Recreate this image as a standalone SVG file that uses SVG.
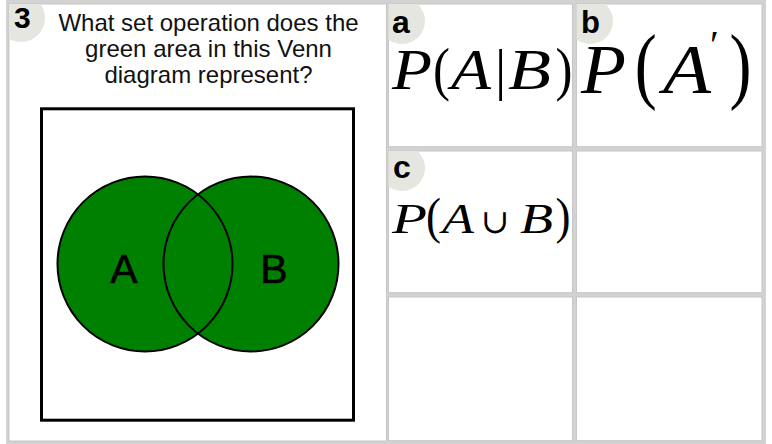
<svg xmlns="http://www.w3.org/2000/svg" width="772" height="444" viewBox="0 0 772 444">
<style>
.cell{fill:#ffffff;stroke:#c6c6c6;stroke-width:1}
.badge{fill:#e6e6e0}
.lbl{font-family:"Liberation Sans",Arial,sans-serif;font-weight:bold;fill:#000}
.q{font-family:"Liberation Sans",Arial,sans-serif;font-size:24px;fill:#111;text-anchor:middle}
.m{font-family:"Liberation Serif","DejaVu Serif",serif;fill:#000}
.i{font-style:italic}
.vfill{fill:#008000;stroke:none}
.vline{fill:none;stroke:#000;stroke-width:2}
.vl{font-family:"Liberation Sans",Arial,sans-serif;font-size:41px;fill:#000;stroke:#000;stroke-width:0.6;text-anchor:middle}
</style>
<defs>
<clipPath id="cq"><rect x="9" y="4" width="377.5" height="437"/></clipPath>
<clipPath id="ca"><rect x="388.5" y="4" width="184" height="142.7"/></clipPath>
<clipPath id="cb"><rect x="576.5" y="4" width="185.5" height="142.7"/></clipPath>
<clipPath id="cc"><rect x="388.5" y="151" width="184" height="141.7"/></clipPath>
</defs>
<rect x="0" y="0" width="772" height="444" fill="#ffffff"/>
<rect x="6" y="0" width="760" height="444" fill="#d2d2d2"/>

<g id="question">
<rect class="cell" x="9" y="4" width="377.5" height="437"/>
<circle class="badge" cx="21" cy="18" r="24" clip-path="url(#cq)"/>
<text class="lbl" x="14" y="28" font-size="30">3</text>
<text class="q" x="208.5" y="31">What set operation does the</text>
<text class="q" x="208.5" y="57">green area in this Venn</text>
<text class="q" x="208.5" y="83">diagram represent?</text>
<rect x="41.5" y="108.8" width="312" height="311.4" fill="#ffffff" stroke="#000" stroke-width="3"/>
<circle class="vfill" cx="145" cy="264" r="87.5"/>
<circle class="vfill" cx="251" cy="264" r="87.5"/>
<circle class="vline" cx="145" cy="264" r="87.5"/>
<circle class="vline" cx="251" cy="264" r="87.5"/>
<text class="vl" x="124" y="283">A</text>
<text class="vl" x="274" y="283">B</text>
</g>

<g id="option-a">
<rect class="cell" x="388.5" y="4" width="184" height="142.7"/>
<circle class="badge" cx="402" cy="21" r="23" clip-path="url(#ca)"/>
<text class="lbl" x="392" y="33" font-size="32">a</text>
<text class="m i" font-size="56" x="392" y="89" textLength="40" lengthAdjust="spacingAndGlyphs">P</text>
<text class="m" font-size="60" x="433" y="89" textLength="17" lengthAdjust="spacingAndGlyphs">(</text>
<text class="m i" font-size="56" x="451" y="89" textLength="40" lengthAdjust="spacingAndGlyphs">A</text>
<text class="m" font-size="56" x="495" y="89">|</text>
<text class="m i" font-size="56" x="508" y="89" textLength="43" lengthAdjust="spacingAndGlyphs">B</text>
<text class="m" font-size="60" x="555.5" y="89" textLength="17" lengthAdjust="spacingAndGlyphs">)</text>
</g>

<g id="option-b">
<rect class="cell" x="576.5" y="4" width="185.5" height="142.7"/>
<circle class="badge" cx="590" cy="21" r="23" clip-path="url(#cb)"/>
<text class="lbl" x="581" y="33" font-size="31">b</text>
<text class="m i" font-size="70" x="581" y="93" textLength="45" lengthAdjust="spacingAndGlyphs">P</text>
<text class="m" font-size="84" x="634.7" y="93" textLength="22" lengthAdjust="spacingAndGlyphs">(</text>
<text class="m i" font-size="70" x="663" y="93" textLength="48" lengthAdjust="spacingAndGlyphs">A</text>
<text class="m" font-size="40" x="710" y="58">′</text>
<text class="m" font-size="84" x="729.5" y="93" textLength="22" lengthAdjust="spacingAndGlyphs">)</text>
</g>

<g id="option-c">
<rect class="cell" x="388.5" y="151" width="184" height="141.7"/>
<circle class="badge" cx="402" cy="168" r="23" clip-path="url(#cc)"/>
<text class="lbl" x="393" y="178" font-size="32">c</text>
<text class="m i" font-size="42" x="392" y="233" textLength="35" lengthAdjust="spacingAndGlyphs">P</text>
<text class="m" font-size="50" x="426" y="233" textLength="15" lengthAdjust="spacingAndGlyphs">(</text>
<text class="m i" font-size="42" x="442" y="233" textLength="32" lengthAdjust="spacingAndGlyphs">A</text>
<text class="m" font-size="34" x="481" y="233">∪</text>
<text class="m i" font-size="42" x="520" y="233" textLength="33" lengthAdjust="spacingAndGlyphs">B</text>
<text class="m" font-size="50" x="555.5" y="233" textLength="15" lengthAdjust="spacingAndGlyphs">)</text>
</g>

<g id="option-d">
<rect class="cell" x="576.5" y="151" width="185.5" height="141.7"/>
</g>
<g id="option-e">
<rect class="cell" x="388.5" y="297" width="184" height="143.7"/>
</g>
<g id="option-f">
<rect class="cell" x="576.5" y="297" width="185.5" height="143.7"/>
</g>
<g id="connectors"/>
</svg>
